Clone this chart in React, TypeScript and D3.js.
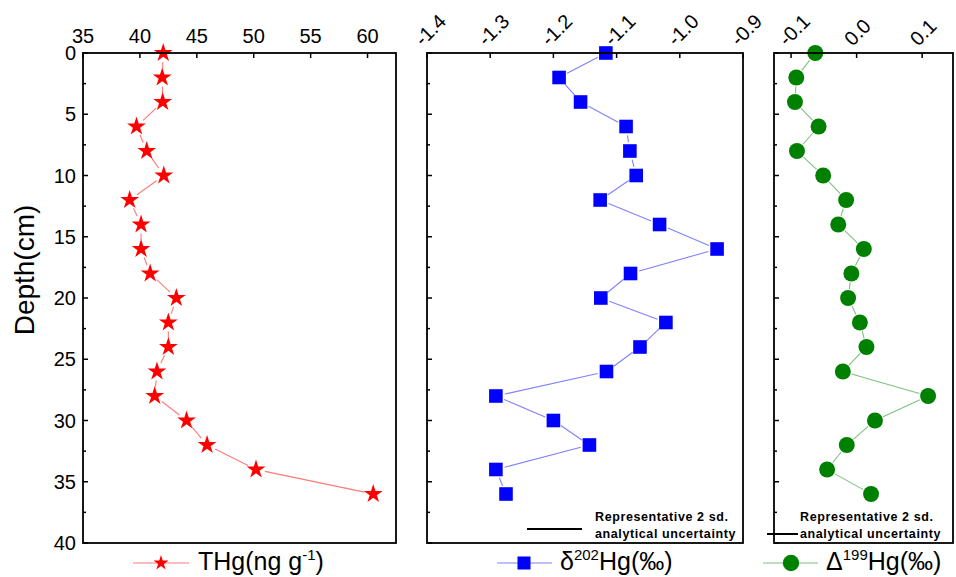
import React from 'react';
import * as d3 from 'd3';

// depth (cm) of each sample
const depths = [0, 2, 4, 6, 8, 10, 12, 14, 16, 18, 20, 22, 24, 26, 28, 30, 32, 34, 36];
// THg (ng g-1)
const thg = [42.05, 41.96, 42.0, 39.7, 40.6, 42.1, 39.1, 40.1, 40.1, 40.9, 43.2, 42.5, 42.5, 41.5, 41.3, 44.1, 45.9, 50.2, 60.5];
// d202Hg (permil)
const d202 = [-1.117, -1.191, -1.157, -1.085, -1.079, -1.069, -1.126, -1.032, -0.941, -1.078, -1.125, -1.022, -1.063, -1.116, -1.291, -1.2, -1.143, -1.291, -1.275];
// D199Hg (permil)
const D199 = [-0.063, -0.092, -0.094, -0.058, -0.091, -0.051, -0.016, -0.028, 0.011, -0.008, -0.013, 0.005, 0.015, -0.021, 0.109, 0.028, -0.015, -0.045, 0.022];

const depthTicks = [0, 5, 10, 15, 20, 25, 30, 35, 40];
const thgTicks = [35, 40, 45, 50, 55, 60];
const d202Ticks = [-1.4, -1.3, -1.2, -1.1, -1.0, -0.9];
const D199Ticks = [-0.1, 0.0, 0.1];

const FONT = '"Liberation Sans", Arial, sans-serif';
const top = 53;
const bottom = 543;

const y = d3.scaleLinear().domain([0, 40]).range([top, bottom]);

// plain hyphen instead of d3's unicode minus
const fmt1 = (v: number) => d3.format('.1f')(v).replace('−', '-');

type Panel = {
  x: d3.ScaleLinear<number, number>;
  values: number[];
  ticks: number[];
  fmt: (v: number) => string;
  rotate: boolean;
  symbol: d3.SymbolType;
  size: number;
  legendSize: number;
  color: string;
  lineColor: string;
  gap: number;
};

const panels: Panel[] = [
  {
    x: d3.scaleLinear().domain([35, 62.5]).range([83, 396]),
    values: thg, ticks: thgTicks, fmt: d3.format('d'), rotate: false,
    symbol: d3.symbolStar, size: 110, legendSize: 70, color: '#ff0000', lineColor: '#ff7a7a', gap: 9,
  },
  {
    x: d3.scaleLinear().domain([-1.4, -0.9]).range([427, 743]),
    values: d202, ticks: d202Ticks, fmt: fmt1, rotate: true,
    symbol: d3.symbolSquare, size: 185, legendSize: 170, color: '#0000ff', lineColor: '#8080ff', gap: 9,
  },
  {
    x: d3.scaleLinear().domain([-0.126, 0.147]).range([774, 953]),
    values: D199, ticks: D199Ticks, fmt: fmt1, rotate: true,
    symbol: d3.symbolCircle, size: 200, legendSize: 210, color: '#008000', lineColor: '#7fc07f', gap: 9,
  },
];

function Segments({ p }: { p: Panel }) {
  const pts = p.values.map((v, i) => [p.x(v), y(depths[i])]);
  return (
    <g>
      {pts.slice(1).map((b, i) => {
        const a = pts[i];
        const dx = b[0] - a[0];
        const dy = b[1] - a[1];
        const len = Math.hypot(dx, dy);
        if (len < p.gap * 2 + 1) return null;
        const ux = dx / len, uy = dy / len;
        return (
          <line key={i} x1={a[0] + ux * p.gap} y1={a[1] + uy * p.gap}
            x2={b[0] - ux * p.gap} y2={b[1] - uy * p.gap}
            stroke={p.lineColor} strokeWidth={1.1} />
        );
      })}
    </g>
  );
}

function PanelView({ p, idx }: { p: Panel; idx: number }) {
  const [x0, x1] = p.x.range();
  const sym = d3.symbol().type(p.symbol).size(p.size)()!;
  const minor = d3.range(2.5, 40, 5);
  return (
    <g>
      <Segments p={p} />
      {p.values.map((v, i) => (
        <path key={i} d={sym} transform={`translate(${p.x(v)},${y(depths[i])})`} fill={p.color} />
      ))}
      {/* top ticks */}
      {p.ticks.map((t) => (
        <line key={'t' + t} x1={p.x(t)} x2={p.x(t)} y1={top} y2={top + 5} stroke="#000" strokeWidth={1.5} />
      ))}
      {p.ticks.map((t) =>
        p.rotate ? (
          <text key={'l' + t} transform={`translate(${p.x(t) - 9},42) rotate(-45)`}
            fontSize={20} fontFamily={FONT} dominantBaseline="central">{p.fmt(t)}</text>
        ) : (
          <text key={'l' + t} x={p.x(t)} y={43} fontSize={20} fontFamily={FONT} textAnchor="middle">{p.fmt(t)}</text>
        )
      )}
      {/* left ticks */}
      {depthTicks.map((d) => (
        <line key={'m' + d} x1={x0} x2={x0 + 5} y1={y(d)} y2={y(d)} stroke="#000" strokeWidth={1.5} />
      ))}
      {minor.map((d) => (
        <line key={'n' + d} x1={x0} x2={x0 + 3} y1={y(d)} y2={y(d)} stroke="#000" strokeWidth={1.5} />
      ))}
      {idx === 0 && depthTicks.map((d) => (
        <text key={'d' + d} x={76} y={y(d)} fontSize={20} fontFamily={FONT} textAnchor="end" dominantBaseline="central">{d}</text>
      ))}
      <rect x={x0} y={top} width={x1 - x0} height={bottom - top} fill="none" stroke="#000" strokeWidth={1.8} />
    </g>
  );
}

function Legend({ p, x, lineStart, lineEnd, children }: { p: Panel; x: number; lineStart: number; lineEnd: number; children: React.ReactNode }) {
  const sym = d3.symbol().type(p.symbol).size(p.legendSize)()!;
  return (
    <g>
      <line x1={lineStart} x2={lineEnd} y1={563} y2={563} stroke={p.lineColor} strokeWidth={1.1} />
      <path d={sym} transform={`translate(${x},563)`} fill={p.color} />
      {children}
    </g>
  );
}

function Uncertainty({ tx, l1, l2, ly }: { tx: number; l1: number; l2: number; ly: number }) {
  const style = { fontSize: 12.5, fontFamily: FONT, fontWeight: 700, letterSpacing: 0.6 } as const;
  return (
    <g>
      <line x1={l1} x2={l2} y1={ly} y2={ly} stroke="#000" strokeWidth={2} />
      <text x={tx} y={521} style={style}>Representative 2 sd.</text>
      <text x={tx} y={538} style={style}>analytical uncertainty</text>
    </g>
  );
}

export default function App() {
  return (
    <svg width={956} height={577} style={{ position: 'absolute', left: 0, top: 0, background: '#fff' }}>
      <rect width={956} height={577} fill="#fff" />
      {panels.map((p, i) => <PanelView key={i} p={p} idx={i} />)}
      <text transform="translate(34,270) rotate(-90)" fontSize={28} fontFamily={FONT} textAnchor="middle">Depth(cm)</text>
      <Uncertainty tx={595} l1={527} l2={582} ly={529} />
      <Uncertainty tx={800} l1={767} l2={798} ly={534} />
      <Legend p={panels[0]} x={161} lineStart={133} lineEnd={189}>
        <text x={198} y={570} fontSize={25} fontFamily={FONT}>
          THg(ng g<tspan fontSize={15} dy={-10}>-1</tspan><tspan dy={10}>)</tspan>
        </text>
      </Legend>
      <Legend p={panels[1]} x={524} lineStart={497} lineEnd={552}>
        <text x={560} y={570} fontSize={25} fontFamily={FONT}>
          δ<tspan fontSize={15} dy={-10}>202</tspan><tspan dy={10}>Hg(‰)</tspan>
        </text>
      </Legend>
      <Legend p={panels[2]} x={791} lineStart={763} lineEnd={818}>
        <text x={826} y={570} fontSize={25} fontFamily={FONT}>
          Δ<tspan fontSize={15} dy={-10}>199</tspan><tspan dy={10}>Hg(‰)</tspan>
        </text>
      </Legend>
    </svg>
  );
}
